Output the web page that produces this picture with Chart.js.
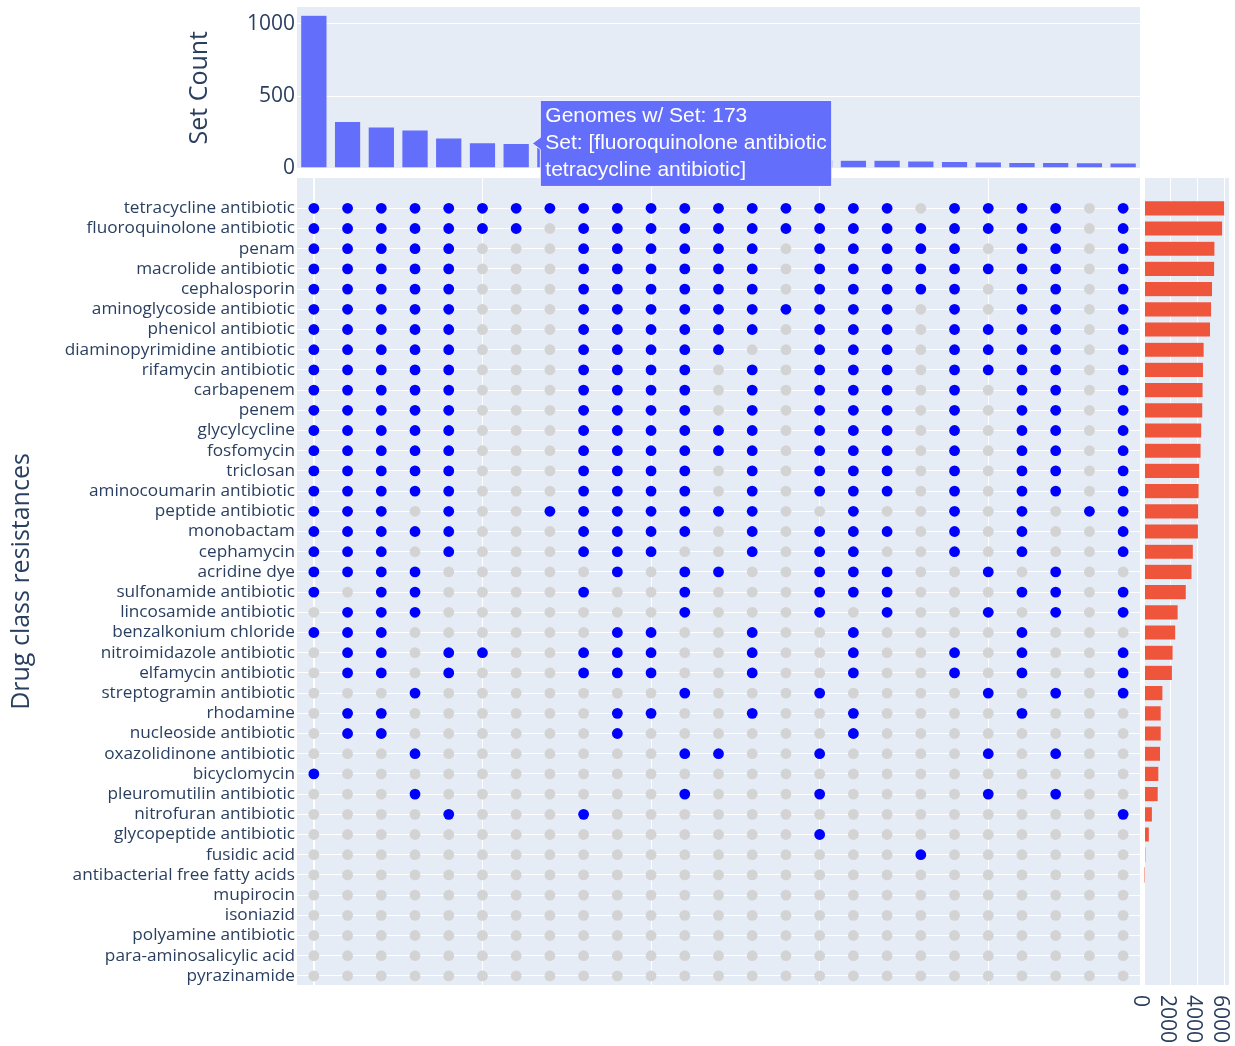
<!DOCTYPE html>
<html>
<head>
<meta charset="utf-8">
<title>Drug class resistance sets</title>
<script src="https://cdn.jsdelivr.net/npm/chart.js@4.4.1/dist/chart.umd.min.js"></script>
<style>
  html, body { margin: 0; padding: 0; background: #ffffff; }
  #wrap { position: relative; width: 1235px; height: 1046px; overflow: hidden; }
  #wrap canvas { position: absolute; left: 0; }
</style>
</head>
<body>
<div id="wrap">
  <canvas id="matrix" width="1235" height="876" style="top:170px"></canvas>
  <canvas id="totals" width="1235" height="876" style="top:170px"></canvas>
  <canvas id="sets" width="1235" height="200" style="top:0px"></canvas>
</div>
<script>
// ---- data ----
const drugClasses = [
  'tetracycline antibiotic', 'fluoroquinolone antibiotic', 'penam', 'macrolide antibiotic',
  'cephalosporin', 'aminoglycoside antibiotic', 'phenicol antibiotic', 'diaminopyrimidine antibiotic',
  'rifamycin antibiotic', 'carbapenem', 'penem', 'glycylcycline', 'fosfomycin', 'triclosan',
  'aminocoumarin antibiotic', 'peptide antibiotic', 'monobactam', 'cephamycin', 'acridine dye',
  'sulfonamide antibiotic', 'lincosamide antibiotic', 'benzalkonium chloride',
  'nitroimidazole antibiotic', 'elfamycin antibiotic', 'streptogramin antibiotic', 'rhodamine',
  'nucleoside antibiotic', 'oxazolidinone antibiotic', 'bicyclomycin', 'pleuromutilin antibiotic',
  'nitrofuran antibiotic', 'glycopeptide antibiotic', 'fusidic acid',
  'antibacterial free fatty acids', 'mupirocin', 'isoniazid', 'polyamine antibiotic',
  'para-aminosalicylic acid', 'pyrazinamide'
];

// genomes carrying each drug class
const classTotals = [
  6050, 5900, 5320, 5300, 5140, 5070, 4990, 4510, 4460, 4430, 4410, 4330, 4280, 4180,
  4130, 4100, 4080, 3700, 3600, 3170, 2560, 2380, 2180, 2130, 1420, 1290, 1290, 1240,
  1115, 1065, 630, 400, 100, 40, 0, 0, 0, 0, 0
];

// genomes sharing each exact set of classes (one entry per column)
const setCounts = [
  1058, 325, 286, 266, 210, 178, 173, 150, 128, 112, 100, 90, 82,
  74, 67, 60, 57, 57, 51, 49, 45, 42, 41, 39, 38
];

// one string per drug class, one character per set: 1 = class is in the set
const membership = [
  '1111111111111111110111101',
  '1111111011111111111111101',
  '1111100011111101111101101',
  '1111100011111101111111101',
  '1111100011111101111101101',
  '1111100011111111110101101',
  '1111100011111101110111101',
  '1111100011111001110111101',
  '1111100011110101110111101',
  '1111100011110101110101101',
  '1111100011110101110101101',
  '1111100011111101110101101',
  '1111100011111101110101101',
  '1111100011110101110101101',
  '1111100011110101110101101',
  '1110100111111100100101011',
  '1111100011110101110101001',
  '1110100011100101100101001',
  '1111000001011001110010100',
  '1011000010010001110001101',
  '0111000000010001010010101',
  '1110000001100100100001000',
  '0110110011100100100101001',
  '0110100011100100100101001',
  '0001000000010001000010101',
  '0110000001100100100001000',
  '0110000001000000100000000',
  '0001000000011001000010100',
  '1000000000000000000000000',
  '0001000000010001000010100',
  '0000100010000000000000001',
  '0000000000000001000000000',
  '0000000000000000001000000',
  '0000000000000000000000000',
  '0000000000000000000000000',
  '0000000000000000000000000',
  '0000000000000000000000000',
  '0000000000000000000000000',
  '0000000000000000000000000'
];

const countTicks = [0, 500, 1000];
const totalTicks = [0, 2000, 4000, 6000];
const gridTicksSets = [0, 5, 10, 15, 20];
const highlightedSet = 6;

// ---- shared styling ----
const INK = '#2a3f5f';
const PANEL = '#E5ECF6';
Chart.defaults.font.family = "'Open Sans', sans-serif";
Chart.defaults.color = INK;

const panelBackground = {
  id: 'panelBackground',
  beforeDraw(chart) {
    const { ctx, chartArea: a } = chart;
    ctx.save();
    ctx.fillStyle = PANEL;
    ctx.fillRect(a.left, a.top, a.right - a.left, a.bottom - a.top);
    ctx.restore();
  }
};

const fixedTicks = values => scale => { scale.ticks = values.map(v => ({ value: v })); };
const zeroWide = ctx => (ctx.tick && ctx.tick.value === 0 ? 2 : 1);
// fixed axis width, without the extra label overhang padding
const fixWidth = w => s => { s.width = w; s.paddingTop = 0; s.paddingBottom = 0; };
const flatAxis = s => { s.height = 0; s.paddingLeft = 0; s.paddingRight = 0; };
const baseOptions = {
  responsive: false,
  animation: false,
  events: [],
  plugins: { legend: { display: false }, tooltip: { enabled: false } }
};

// ---- hover label for one set ----
const hoverLabel = {
  id: 'hoverLabel',
  afterDraw(chart) {
    const bar = chart.getDatasetMeta(0).data[highlightedSet];
    if (!bar) return;
    const ctx = chart.ctx;
    const members = drugClasses.filter((_, r) => membership[r][highlightedSet] === '1').sort();
    const lines = ['Genomes w/ Set: ' + setCounts[highlightedSet]];
    members.forEach((m, i) => {
      let t = m;
      if (i === 0) t = 'Set: [' + t;
      if (i === members.length - 1) t = t + ']';
      lines.push(t);
    });
    ctx.save();
    ctx.font = '21px "Liberation Sans", Arial, sans-serif';
    const lh = 27, padX = 5;
    const w = Math.max(...lines.map(l => ctx.measureText(l).width)) + padX * 2;
    const h = lines.length * lh + 5;
    const tipX = bar.x + bar.width / 2 + 3;
    const cy = bar.y;
    const bx = tipX + 8, by = cy - h / 2;
    ctx.beginPath();
    ctx.moveTo(bx, by);
    ctx.lineTo(bx + w, by);
    ctx.lineTo(bx + w, by + h);
    ctx.lineTo(bx, by + h);
    ctx.lineTo(bx, cy + 6);
    ctx.lineTo(tipX, cy);
    ctx.lineTo(bx, cy - 6);
    ctx.closePath();
    ctx.fillStyle = '#636EFA';
    ctx.fill();
    ctx.strokeStyle = 'rgba(255,255,255,0.85)';
    ctx.lineWidth = 1;
    ctx.stroke();
    ctx.fillStyle = '#ffffff';
    ctx.textBaseline = 'middle';
    ctx.textAlign = 'left';
    lines.forEach((l, i) => {
      ctx.fillText(l, bx + padX, cy + (i - (lines.length - 1) / 2) * lh);
    });
    ctx.restore();
  }
};

// ---- set size bars ----
new Chart(document.getElementById('sets'), {
  type: 'bar',
  data: {
    labels: setCounts.map((_, i) => 'Set ' + (i + 1)),
    datasets: [{
      data: setCounts,
      backgroundColor: '#636EFA',
      borderColor: PANEL,
      borderWidth: 0.5,
      barPercentage: 0.78,
      categoryPercentage: 1
    }]
  },
  options: {
    ...baseOptions,
    layout: { padding: { left: 0, top: 7, right: 95, bottom: 31.5 } },
    scales: {
      x: { display: false, offset: true },
      y: {
        min: 0, max: 1115,
        afterBuildTicks: fixedTicks(countTicks),
        ticks: { font: { size: 21 }, color: INK, padding: 2, callback: v => String(v) },
        grid: { color: '#ffffff', lineWidth: zeroWide, drawTicks: false },
        border: { display: false },
        title: { display: true, text: 'Set Count', color: INK, font: { size: 25 }, padding: { top: 185, bottom: 0 } },
        afterFit: fixWidth(297)
      }
    }
  },
  plugins: [panelBackground, hoverLabel]
});

// ---- membership matrix ----
const presentPts = [], absentPts = [];
membership.forEach((row, r) => {
  for (let c = 0; c < row.length; c++) {
    (row[c] === '1' ? presentPts : absentPts).push({ x: c, y: r });
  }
});

new Chart(document.getElementById('matrix'), {
  type: 'scatter',
  data: {
    datasets: [
      { data: absentPts, backgroundColor: '#d3d3d3', borderWidth: 0, pointRadius: 5.4, pointHoverRadius: 5.4 },
      { data: presentPts, backgroundColor: '#0000ff', borderWidth: 0, pointRadius: 5.4, pointHoverRadius: 5.4 }
    ]
  },
  options: {
    ...baseOptions,
    layout: { padding: { left: 0, top: 8, right: 95, bottom: 61 } },
    scales: {
      x: {
        type: 'linear', min: -0.5, max: 24.5,
        afterBuildTicks: fixedTicks(gridTicksSets),
        ticks: { display: false },
        grid: { color: '#ffffff', lineWidth: zeroWide, drawTicks: false },
        border: { display: false },
        afterFit: flatAxis
      },
      y: {
        type: 'linear', reverse: true, min: -1.5, max: 38.45,
        afterBuildTicks: fixedTicks(drugClasses.map((_, i) => i)),
        ticks: { autoSkip: false, callback: v => drugClasses[v], font: { size: 17.2 }, color: INK, padding: 2 },
        grid: { color: '#ffffff', lineWidth: 1, drawTicks: false },
        border: { display: false },
        title: { display: true, text: 'Drug class resistances', color: INK, font: { size: 25 }, padding: { top: 7, bottom: 0 } },
        afterFit: fixWidth(297)
      }
    }
  },
  plugins: [panelBackground]
});

// ---- per-class totals ----
const verticalTickLabels = {
  id: 'verticalTickLabels',
  afterDraw(chart) {
    const { ctx, chartArea: a } = chart;
    const xs = chart.scales.x;
    ctx.save();
    ctx.font = "21px 'Open Sans', sans-serif";
    ctx.fillStyle = INK;
    ctx.textAlign = 'left';
    ctx.textBaseline = 'middle';
    totalTicks.forEach(v => {
      ctx.save();
      ctx.translate(xs.getPixelForValue(v) - 4, a.bottom + 10);
      ctx.rotate(Math.PI / 2);
      ctx.fillText(String(v), 0, 0);
      ctx.restore();
    });
    ctx.restore();
  }
};

new Chart(document.getElementById('totals'), {
  type: 'bar',
  data: {
    datasets: [{
      data: classTotals.map((v, i) => ({ x: v, y: i })),
      backgroundColor: '#EF553B',
      borderColor: PANEL,
      borderWidth: c => (c.raw && c.raw.x >= 300 ? 0.5 : 0),
      inflateAmount: 0,
      barPercentage: 0.75,
      categoryPercentage: 1
    }]
  },
  options: {
    ...baseOptions,
    indexAxis: 'y',
    layout: { padding: { left: 1144, top: 8, right: 6, bottom: 61 } },
    scales: {
      x: {
        type: 'linear', min: 0, max: 6375,
        afterBuildTicks: fixedTicks(totalTicks),
        ticks: { display: false },
        grid: { color: '#ffffff', lineWidth: zeroWide, drawTicks: false },
        border: { display: false },
        afterFit: flatAxis
      },
      y: {
        type: 'linear', reverse: true, min: -1.5, max: 38.45, offset: false,
        afterBuildTicks: fixedTicks(drugClasses.map((_, i) => i)),
        ticks: { display: false },
        grid: { display: false, drawTicks: false },
        border: { display: false },
        afterFit: fixWidth(0)
      }
    }
  },
  plugins: [panelBackground, verticalTickLabels]
});
</script>
</body>
</html>
